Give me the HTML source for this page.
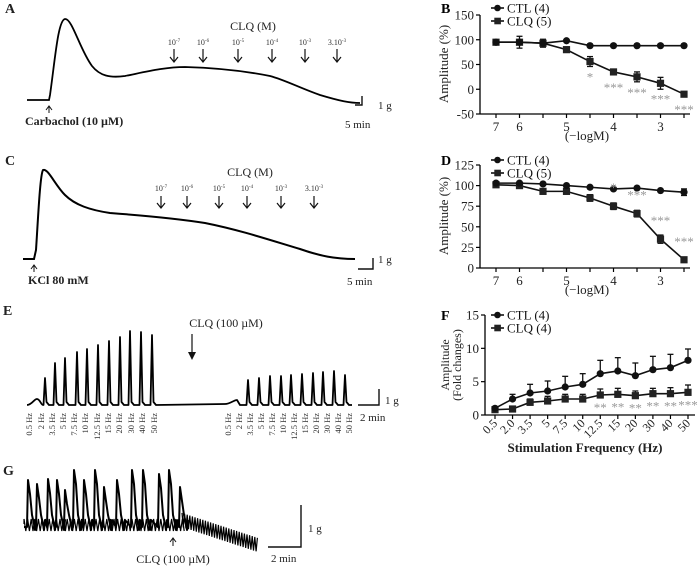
<!DOCTYPE html>
<html><head><meta charset="utf-8"><style>
html,body{margin:0;padding:0;background:#fff;}
svg{display:block;font-family:"Liberation Serif",serif;}
</style></head><body>
<svg id="fig" width="700" height="575" viewBox="0 0 700 575">
<g id="traces"></g>
<g id="charts"></g>
</svg>
<script>
// ---------- Chart data ----------
const concCats = ["7","6","5.5","5","4.5","4","3.5","3","2.5"];
const concTickLabels = ["7","6","","5","","4","","3",""];
const bCtl = [95,95,93,98,88,88,88,88,88];
const bCtlErr = [2,2,2,2,2,2,2,2,2];
const bClq = [95,95,93,80,56,35,25,12,-10];
const bClqErr = [2,12,8,2,10,5,10,12,3];
const bStars = ["","","","","*","***","***","***","***"];
const bYTicks = [150,100,50,0,-50];

const dCtl = [103,103,102,100,98,96,97,94,92];
const dCtlErr = [1,1,1,1,1,1,1,1,4];
const dClq = [101,100,93,93,85,75,66,35,10];
const dClqErr = [1,1,1,1,4,4,4,5,1];
const dStars = ["","","","","","*","***","***","***"];
const dYTicks = [125,100,75,50,25,0];

const freqCats = ["0.5","2.0","3.5","5","7.5","10","12.5","15","20","30","40","50"];
const fCtl = [1,2.4,3.3,3.6,4.2,4.6,6.2,6.6,5.9,6.8,7.1,8.2];
const fCtlErr = [0.2,0.7,1.3,1.5,1.6,1.6,2,2,1.9,2,2,1.7];
const fClq = [0.8,0.9,1.9,2.1,2.4,2.4,3,3.1,2.9,3.2,3.2,3.4];
const fClqErr = [0.2,0.2,0.5,0.7,0.7,0.7,0.9,0.9,0.7,0.8,0.9,1.1];
const fStars = ["","","","","","","**","**","**","**","**","***"];
const fYTicks = [15,10,5,0];

const NS="http://www.w3.org/2000/svg";
function mk(parent,tag,attrs,text){const e=document.createElementNS(NS,tag);for(const k in attrs)e.setAttribute(k,attrs[k]);if(text!==undefined)e.textContent=text;parent.appendChild(e);return e;}
const charts=document.getElementById('charts');
const traces=document.getElementById('traces');

function drawChart(o){
  const g=mk(charts,'g',{});
  
  
  const n=o.cats.length;
  const xs=i=>o.x0+i*(o.x1-o.x0)/(n-1);
  const ys=v=>o.yBase+(v-o.yMin)*(o.yTop-o.yBase)/(o.yMax-o.yMin);
  const ya=mk(g,'line',{x1:o.ax,y1:ys(o.yMax),x2:o.ax,y2:ys(o.yMin),stroke:'#000','stroke-width':1.3});
  
  
  const xa=mk(g,'line',{x1:o.ax,y1:ys(o.yMin),x2:o.axEnd,y2:ys(o.yMin),stroke:'#000','stroke-width':1.3});
  
  
  o.yTicks.forEach(v=>{
    mk(g,'line',{x1:o.ax-4,y1:ys(v),x2:o.ax,y2:ys(v),stroke:'#000','stroke-width':1.2});
    const t=mk(g,'text',{x:o.ax-6,y:ys(v)+4.5,'text-anchor':'end','font-size':13,fill:'#222'},String(v));
    
    
  });
  o.cats.forEach((c,i)=>{
    mk(g,'line',{x1:xs(i),y1:ys(o.yMin),x2:xs(i),y2:ys(o.yMin)+4,stroke:'#000','stroke-width':1.2});
    const lab=o.tickLabels[i];
    if(lab){
      let t;
      if(o.rot){t=mk(g,'text',{x:xs(i)+3,y:ys(o.yMin)+9,'text-anchor':'end','font-size':12,fill:'#222',transform:`rotate(-45 ${xs(i)+3} ${ys(o.yMin)+9})`},lab);}
      else t=mk(g,'text',{x:xs(i),y:ys(o.yMin)+17,'text-anchor':'middle','font-size':13,fill:'#222'},lab);
      
      
    }
  });
  const series=[{v:o.s2,e:o.e2,shape:'sq'},{v:o.s1,e:o.e1,shape:'c'}];
  series.forEach(s=>{
    const pts=s.v.map((v,i)=>xs(i)+','+ys(v)).join(' ');
    const pl=mk(g,'polyline',{points:pts,fill:'none',stroke:'#111','stroke-width':1.6});
    
    
    s.v.forEach((v,i)=>{
      const top=ys(v+s.e[i]), bot=o.upOnly?ys(v):ys(v-s.e[i]);
      mk(g,'line',{x1:xs(i),y1:top,x2:xs(i),y2:bot,stroke:'#111','stroke-width':1.3});
      mk(g,'line',{x1:xs(i)-3,y1:top,x2:xs(i)+3,y2:top,stroke:'#111','stroke-width':1.3});
      if(!o.upOnly)mk(g,'line',{x1:xs(i)-3,y1:bot,x2:xs(i)+3,y2:bot,stroke:'#111','stroke-width':1.3});
      let m;
      if(s.shape==='c')m=mk(g,'circle',{cx:xs(i),cy:ys(v),r:3.6,fill:'#111'});
      else m=mk(g,'rect',{x:xs(i)-3.6,y:ys(v)-3.6,width:7.2,height:7.2,fill:'#222'});
      
      
    });
  });
  o.stars.forEach((st,i)=>{
    if(!st)return;
    const t=mk(g,'text',{x:xs(i),y:ys(o.s2[i])+o.starDy,'text-anchor':'middle','font-size':13,fill:'#999'},st);
    
    
  });
  [['CTL ('+o.n1+')','c'],['CLQ ('+o.n2+')','sq']].forEach((L,k)=>{
    const ly=o.legY+k*13;
    mk(g,'line',{x1:o.legX,y1:ly,x2:o.legX+13,y2:ly,stroke:'#111','stroke-width':1.6});
    if(L[1]==='c')mk(g,'circle',{cx:o.legX+6.5,cy:ly,r:3.3,fill:'#111'});
    else mk(g,'rect',{x:o.legX+3.3,y:ly-3.3,width:6.6,height:6.6,fill:'#222'});
    const t=mk(g,'text',{x:o.legX+16,y:ly+4.5,'font-size':13,fill:'#111'},L[0]);
    
    
  });
  const pl=mk(g,'text',{x:o.letter[0],y:o.letter[1],'font-size':14,'font-weight':'bold'},o.letterT);
  
  
  return {xs,ys,g};
}

const B=drawChart({name:'chart-b',cats:concCats,tickLabels:concTickLabels,x0:496,x1:684,ax:480,axEnd:690,
  yMin:-50,yMax:150,yBase:114,yTop:15,yTicks:bYTicks,s1:bCtl,e1:bCtlErr,s2:bClq,e2:bClqErr,stars:bStars,starDy:20,
  legX:491,legY:8,n1:4,n2:5,letter:[441,13],letterT:'B'});
mk(B.g,'text',{x:587,y:140,'text-anchor':'middle','font-size':13,fill:'#222'},'(\u2212logM)');
mk(B.g,'text',{x:448,y:64,'text-anchor':'middle','font-size':13,fill:'#222',transform:'rotate(-90 448 64)'},'Amplitude (%)');

const D=drawChart({name:'chart-d',cats:concCats,tickLabels:concTickLabels,x0:496,x1:684,ax:480,axEnd:690,
  yMin:0,yMax:125,yBase:268,yTop:165,yTicks:dYTicks,s1:dCtl,e1:dCtlErr,s2:dClq,e2:dClqErr,stars:dStars,starDy:-14,
  legX:491,legY:160,n1:4,n2:5,letter:[441,165],letterT:'D'});
mk(D.g,'text',{x:587,y:294,'text-anchor':'middle','font-size':13,fill:'#222'},'(\u2212logM)');
mk(D.g,'text',{x:448,y:216,'text-anchor':'middle','font-size':13,fill:'#222',transform:'rotate(-90 448 216)'},'Amplitude (%)');

const F=drawChart({name:'chart-f',cats:freqCats,tickLabels:freqCats,x0:495,x1:688,ax:485,axEnd:695,upOnly:true,rot:true,
  yMin:0,yMax:15,yBase:415,yTop:315,yTicks:fYTicks,s1:fCtl,e1:fCtlErr,s2:fClq,e2:fClqErr,stars:fStars,starDy:17,
  legX:491,legY:315,n1:4,n2:4,letter:[441,320],letterT:'F'});
mk(F.g,'text',{x:585,y:452,'text-anchor':'middle','font-size':13,'font-weight':'bold',fill:'#222'},'Stimulation Frequency (Hz)');
mk(F.g,'text',{x:449,y:365,'text-anchor':'middle','font-size':12,fill:'#222',transform:'rotate(-90 449 365)'},'Amplitude');
mk(F.g,'text',{x:461,y:365,'text-anchor':'middle','font-size':12,fill:'#222',transform:'rotate(-90 461 365)'},'(Fold changes)');

// ---------- Traces ----------
function txt(x,y,s,size,extra){const t=mk(traces,'text',Object.assign({x:x,y:y,'font-size':size||12,fill:'#222'},extra||{}),s);return t;}
function arrowDown(x,y1,y2){mk(traces,'line',{x1:x,y1:y1,x2:x,y2:y2,stroke:'#111','stroke-width':1.2});mk(traces,'polyline',{points:`${x-4},${y2-5} ${x},${y2} ${x+4},${y2-5}`,fill:'none',stroke:'#111','stroke-width':1.2});}
function arrowUp(x,y1,y2){mk(traces,'line',{x1:x,y1:y1,x2:x,y2:y2,stroke:'#111','stroke-width':1});mk(traces,'polyline',{points:`${x-3},${y1+4} ${x},${y1} ${x+3},${y1+4}`,fill:'none',stroke:'#111','stroke-width':1});}
function scale(x1,x2,yb,yt){mk(traces,'polyline',{points:`${x1},${yb} ${x2},${yb} ${x2},${yt}`,fill:'none',stroke:'#111','stroke-width':1.4});}

// Panel A
let p=mk(traces,'path',{d:'M27,100 L49,100 L50,95 C55,60 58,20 65,19 C72,18 80,50 92,66 C100,76 110,78 125,76 C145,72 165,67 185,67 C220,68 250,72 270,76 C285,80 300,88 320,95 C340,101 350,103 360,103',fill:'none',stroke:'#000','stroke-width':1.8});


txt(5,13,'A',14,{'font-weight':'bold'});
arrowUp(49,106,113);
txt(25,125,'Carbachol (10 µM)',12,{'font-weight':'bold'});
txt(253,30,'CLQ (M)',12,{'text-anchor':'middle'});
[[174,'10','-7'],[203,'10','-6'],[238,'10','-5'],[272,'10','-4'],[305,'10','-3'],[337,'3.10','-3']].forEach(a=>{
  const t=mk(traces,'text',{x:a[0],y:45,'text-anchor':'middle','font-size':8,fill:'#333'});
  t.textContent=a[1];mk(t,'tspan',{dy:-3,'font-size':5},a[2]);
  arrowDown(a[0],49,62);
});
scale(355,362,105,96);
txt(378,109,'1 g',11);
txt(345,128,'5 min',11);

// Panel C
p=mk(traces,'path',{d:'M23,259 L34,259 L36,250 C38,220 40,175 43,170 C48,168 55,185 65,195 C75,205 90,210 110,213 C150,216 180,219 205,223 C240,230 270,240 300,249 C320,256 335,259 355,259',fill:'none',stroke:'#000','stroke-width':2});


txt(5,165,'C',14,{'font-weight':'bold'});
arrowUp(34,265,272);
txt(28,284,'KCl 80 mM',12,{'font-weight':'bold'});
txt(250,176,'CLQ (M)',12,{'text-anchor':'middle'});
[[161,'10','-7'],[187,'10','-6'],[219,'10','-5'],[247,'10','-4'],[281,'10','-3'],[314,'3.10','-3']].forEach(a=>{
  const t=mk(traces,'text',{x:a[0],y:191,'text-anchor':'middle','font-size':8,fill:'#333'});
  t.textContent=a[1];mk(t,'tspan',{dy:-3,'font-size':5},a[2]);
  arrowDown(a[0],196,208);
});
scale(358,373,269,258);
txt(378,263,'1 g',11);
txt(347,285,'5 min',11);

// Panel E
const eLeftX=[45,55,65,77,87,98,109,120,130,141,152];
const eLeftTop=[378,363,358,352,349,345,341,337,331,332,335];
const eRightX=[248,259,270,281,291,302,313,323,334,345];
const eRightTop=[380,378,376,376,375,374,373,372,371,375];
function spikes(xs,tops,base){let d='';xs.forEach((x,i)=>{d+=` L${x-1.5},${base} L${x},${tops[i]} L${x+1.5},${base-3} L${x+4},${base}`;});return d;}
let ed='M27,405 C32,405 34,399 37,399 C40,399 41,405 43,405'+spikes(eLeftX,eLeftTop,405)+' L225,404 C230,404 234,400 237,400 L240,405'+spikes(eRightX,eRightTop,405)+' L352,405';
p=mk(traces,'path',{d:ed,fill:'none',stroke:'#000','stroke-width':1.8,'stroke-linejoin':'round'});


txt(3,315,'E',14,{'font-weight':'bold'});
txt(226,327,'CLQ (100 µM)',12,{'text-anchor':'middle'});
mk(traces,'line',{x1:192,y1:334,x2:192,y2:352,stroke:'#111','stroke-width':1.2});
mk(traces,'polygon',{points:'188,352 196,352 192,360',fill:'#111'});
scale(358,379,405,389);
txt(385,404,'1 g',11);
txt(360,421,'2 min',11);
const hzLabels=['0.5 Hz','2 Hz','3.5 Hz','5 Hz','7.5 Hz','10 Hz','12.5 Hz','15 Hz','20 Hz','30 Hz','40 Hz','50 Hz'];
const hzL=[29,41,52,63,74,85,97,108,119,131,142,154];
const hzR=[228,239,250,261,272,283,294,305,316,327,338,349];
[hzL,hzR].forEach(arr=>arr.forEach((x,i)=>{
  mk(traces,'text',{x:x+3,y:413,'text-anchor':'end','font-size':8.5,fill:'#333',transform:`rotate(-90 ${x+3} 413)`},hzLabels[i]);
}));

// Panel G
const gPeakX=[28,37,48,57,65,74,84,95,104,117,132,143,159,169,180];
const gPeakTop=[480,484,479,480,490,470,480,470,487,480,470,470,474,470,487];
let gd='M24,527';
gPeakX.forEach((x,i)=>{gd+=` L${x-1},527 L${x},${gPeakTop[i]} L${x+2},${gPeakTop[i]+14} L${x+4},515 L${x+6},524 L${x+7},530 L${x+8},520`;});
p=mk(traces,'path',{d:gd,fill:'none',stroke:'#000','stroke-width':2,'stroke-linejoin':'round'});


let nd='M24,524';let nx=24,k=0;while(nx<186){nd+=` L${nx},${525+(k%2?6:-6)}`;nx+=1.8;k++;}
let gx=182;while(gx<258){const base=520+(gx-182)*25/76;nd+=` L${gx},${base+(k%2?7:-7)}`;gx+=1.3;k++;}
const gn=mk(traces,'path',{d:nd,fill:'none',stroke:'#000','stroke-width':1.2});


txt(3,475,'G',14,{'font-weight':'bold'});
arrowUp(173,538,546);
txt(173,563,'CLQ (100 µM)',12,{'text-anchor':'middle'});
scale(268,301,547,505);
txt(308,532,'1 g',11);
txt(271,562,'2 min',11);
</script>
</body></html>
